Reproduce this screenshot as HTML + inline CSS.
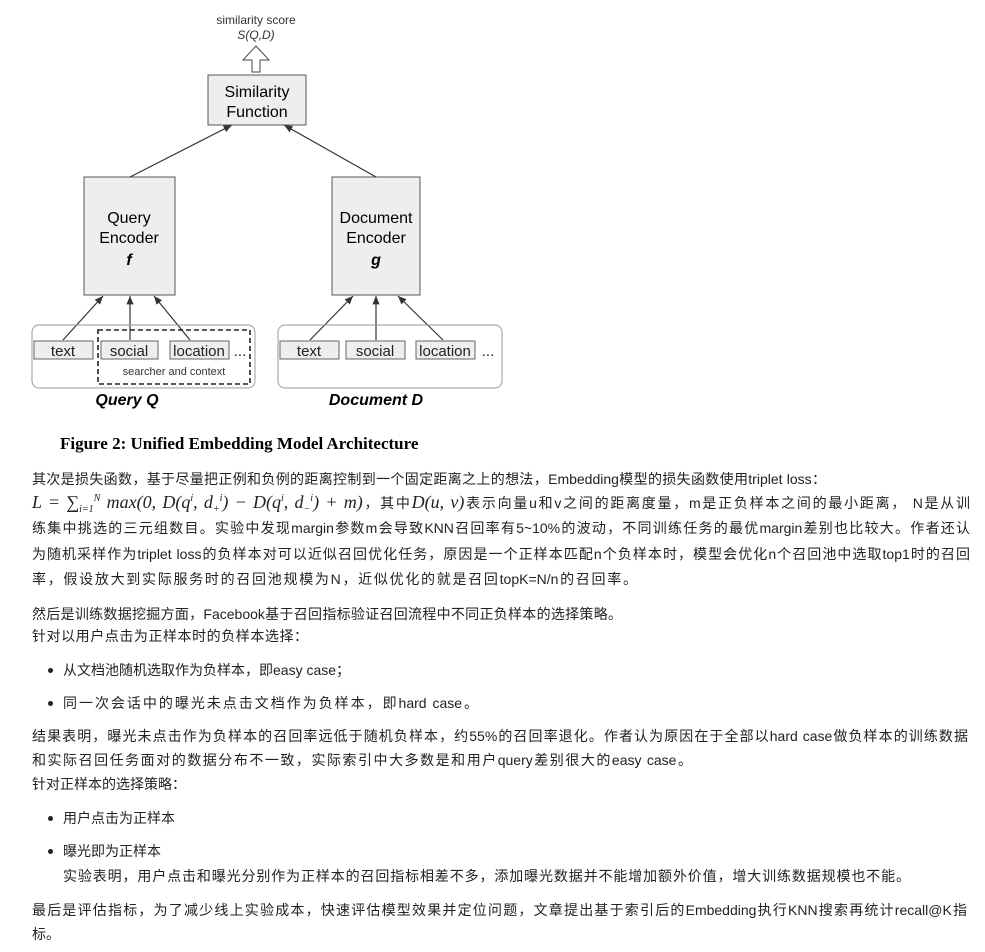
<!DOCTYPE html>
<html><head><meta charset="utf-8">
<style>
body{margin:0;width:985px;height:952px;background:#fff;position:relative;overflow:hidden;font-family:"Liberation Sans","Noto Sans CJK SC",sans-serif;color:#222}
.l{position:absolute;left:32px;font-size:14px;white-space:nowrap;line-height:18px;text-align:justify;text-align-last:justify}
.b{position:absolute;left:48px;width:5px;height:5px;border-radius:50%;background:#222}
.m{font-family:"Liberation Serif",serif;font-style:italic;font-size:18px}
.s{font-size:10px;position:relative;top:-7px}
.u{font-size:10px;position:relative;top:4px}
</style></head><body>
<svg width="985" height="460" style="position:absolute;left:0;top:0" font-family="Liberation Sans,sans-serif">
<defs><marker id="a" markerWidth="8" markerHeight="8" refX="7" refY="4" orient="auto"><path d="M0,1 L7,4 L0,7z" fill="#333"/></marker></defs>
<text x="256" y="24" font-size="12" text-anchor="middle" fill="#333">similarity score</text>
<text x="256" y="39" font-size="12" text-anchor="middle" font-style="italic" fill="#333">S(Q,D)</text>
<path d="M252,72 V60 H243 L256,46 L269,60 H260 V72z" fill="#fff" stroke="#444"/>
<rect x="208" y="75" width="98" height="50" fill="#eee" stroke="#555"/>
<text x="257" y="97" font-size="16" text-anchor="middle">Similarity</text>
<text x="257" y="117" font-size="16" text-anchor="middle">Function</text>
<rect x="84" y="177" width="91" height="118" fill="#eee" stroke="#555"/>
<text x="129" y="223" font-size="16" text-anchor="middle">Query</text>
<text x="129" y="243" font-size="16" text-anchor="middle">Encoder</text>
<text x="129" y="265" font-size="16" text-anchor="middle" font-weight="bold" font-style="italic">f</text>
<rect x="332" y="177" width="88" height="118" fill="#eee" stroke="#555"/>
<text x="376" y="223" font-size="16" text-anchor="middle">Document</text>
<text x="376" y="243" font-size="16" text-anchor="middle">Encoder</text>
<text x="376" y="265" font-size="16" text-anchor="middle" font-weight="bold" font-style="italic">g</text>
<g stroke="#333" stroke-width="1.2" marker-end="url(#a)">
<line x1="130" y1="177" x2="232" y2="125"/>
<line x1="376" y1="177" x2="284" y2="125"/>
<line x1="63" y1="340" x2="103" y2="296"/>
<line x1="130" y1="340" x2="130" y2="296"/>
<line x1="190" y1="340" x2="154" y2="296"/>
<line x1="310" y1="340" x2="353" y2="296"/>
<line x1="376" y1="340" x2="376" y2="296"/>
<line x1="443" y1="340" x2="398" y2="296"/>
</g>
<rect x="32" y="325" width="223" height="63" rx="7" fill="none" stroke="#999"/>
<rect x="278" y="325" width="224" height="63" rx="7" fill="none" stroke="#999"/>
<rect x="98" y="330" width="152" height="54" fill="none" stroke="#222" stroke-width="1.6" stroke-dasharray="5,3"/>
<g fill="#eee" stroke="#666">
<rect x="34" y="341" width="59" height="18"/><rect x="101" y="341" width="57" height="18"/><rect x="170" y="341" width="59" height="18"/>
<rect x="280" y="341" width="59" height="18"/><rect x="346" y="341" width="59" height="18"/><rect x="416" y="341" width="59" height="18"/>
</g>
<g font-size="15" text-anchor="middle" fill="#222">
<text x="63" y="356">text</text><text x="129" y="356">social</text><text x="199" y="356">location</text><text x="240" y="356">...</text>
<text x="309" y="356">text</text><text x="375" y="356">social</text><text x="445" y="356">location</text><text x="488" y="356">...</text>
</g>
<text x="174" y="375" font-size="11" text-anchor="middle" fill="#333">searcher and context</text>
<text x="127" y="405" font-size="16" text-anchor="middle" font-weight="bold" font-style="italic">Query Q</text>
<text x="376" y="405" font-size="16" text-anchor="middle" font-weight="bold" font-style="italic">Document D</text>
<text x="60" y="449" font-size="17" font-weight="bold" font-family="Liberation Serif,serif">Figure 2: Unified Embedding Model Architecture</text>
</svg>
<div class="l" style="top:470px;width:794px">其次是损失函数，基于尽量把正例和负例的距离控制到一个固定距离之上的想法，Embedding模型的损失函数使用triplet loss：</div>
<div class="l" style="top:493px;width:938px"><span class="m">L = ∑<span class="u">i=1</span><span class="s">N</span> max(0, D(q<span class="s">i</span>, d<span class="u">+</span><span class="s">i</span>) − D(q<span class="s">i</span>, d<span class="u">−</span><span class="s">i</span>) + m)</span>，其中<span class="m">D(u, v)</span>表示向量u和v之间的距离度量，m是正负样本之间的最小距离， N是从训</div>
<div class="l" style="top:519px;width:938px">练集中挑选的三元组数目。实验中发现margin参数m会导致KNN召回率有5~10%的波动，不同训练任务的最优margin差别也比较大。作者还认</div>
<div class="l" style="top:545px;width:938px">为随机采样作为triplet loss的负样本对可以近似召回优化任务，原因是一个正样本匹配n个负样本时，模型会优化n个召回池中选取top1时的召回</div>
<div class="l" style="top:570px;width:605px">率，假设放大到实际服务时的召回池规模为N，近似优化的就是召回topK=N/n的召回率。</div>
<div class="l" style="top:605px;width:590px">然后是训练数据挖掘方面，Facebook基于召回指标验证召回流程中不同正负样本的选择策略。</div>
<div class="l" style="top:627px;width:276px">针对以用户点击为正样本时的负样本选择：</div>
<div class="b" style="top:668px"></div><div class="l" style="top:661px;left:63px;width:282px">从文档池随机选取作为负样本，即easy case；</div>
<div class="b" style="top:701px"></div><div class="l" style="top:694px;left:63px;width:415px">同一次会话中的曝光未点击文档作为负样本，即hard case。</div>
<div class="l" style="top:727px;width:936px">结果表明，曝光未点击作为负样本的召回率远低于随机负样本，约55%的召回率退化。作者认为原因在于全部以hard case做负样本的训练数据</div>
<div class="l" style="top:751px;width:660px">和实际召回任务面对的数据分布不一致，实际索引中大多数是和用户query差别很大的easy case。</div>
<div class="l" style="top:775px;width:142px">针对正样本的选择策略：</div>
<div class="b" style="top:816px"></div><div class="l" style="top:809px;left:63px">用户点击为正样本</div>
<div class="b" style="top:849px"></div><div class="l" style="top:842px;left:63px">曝光即为正样本</div>
<div class="l" style="top:867px;left:63px;width:847px">实验表明，用户点击和曝光分别作为正样本的召回指标相差不多，添加曝光数据并不能增加额外价值，增大训练数据规模也不能。</div>
<div class="l" style="top:901px;width:935px">最后是评估指标，为了减少线上实验成本，快速评估模型效果并定位问题，文章提出基于索引后的Embedding执行KNN搜索再统计recall@K指</div>
<div class="l" style="top:925px">标。</div>
</body></html>
